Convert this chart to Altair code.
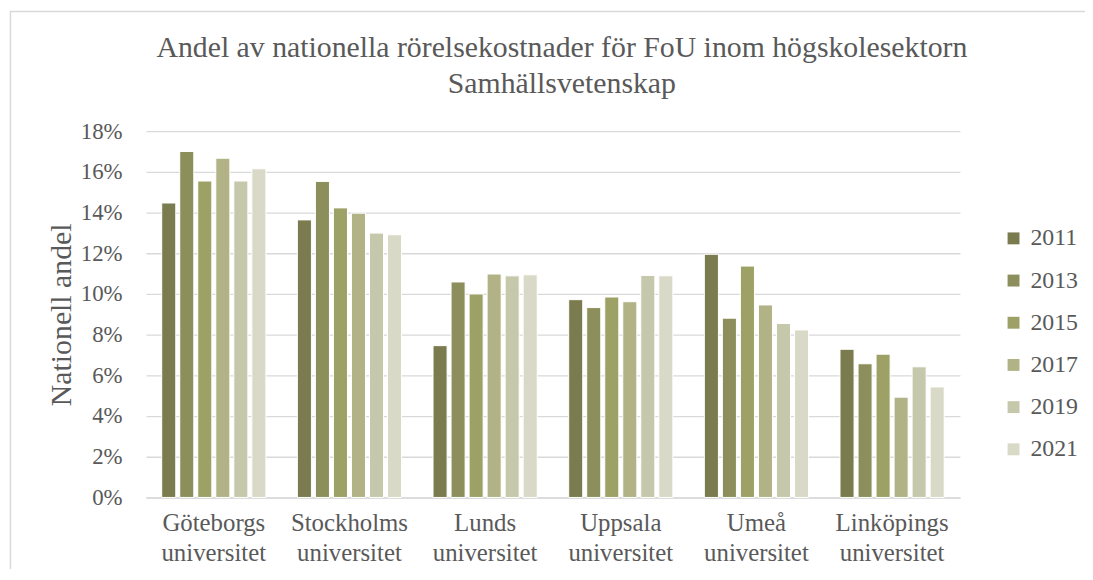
import altair as alt
import pandas as pd

universities = ["Göteborgs universitet", "Stockholms universitet", "Lunds universitet",
                "Uppsala universitet", "Umeå universitet", "Linköpings universitet"]
years = ["2011", "2013", "2015", "2017", "2019", "2021"]
colors = ["#7a7b4e", "#8c8f5b", "#9ea166", "#b1b386", "#c6c8ab", "#d8d9c6"]

v2011 = [14.47, 13.64, 7.46, 9.72, 11.95, 7.28]
v2013 = [17.00, 15.53, 10.59, 9.33, 8.81, 6.57]
v2015 = [15.55, 14.23, 10.00, 9.85, 11.37, 7.04]
v2017 = [16.67, 13.97, 10.98, 9.62, 9.46, 4.93]
v2019 = [15.55, 12.99, 10.89, 10.91, 8.55, 6.42]
v2021 = [16.15, 12.91, 10.94, 10.89, 8.23, 5.43]

series = {"2011": v2011, "2013": v2013, "2015": v2015,
          "2017": v2017, "2019": v2019, "2021": v2021}

rows = []
for y in years:
    for u, v in zip(universities, series[y]):
        rows.append({"Universitet": u, "År": y, "Andel": v / 100.0})
df = pd.DataFrame(rows)

FONT = "Liberation Serif"
TXT = "#595959"
GRID = "#d9d9d9"

bars = alt.Chart(df).mark_bar(stroke="white", strokeWidth=1).encode(
    x=alt.X("Universitet:N", sort=universities,
            scale=alt.Scale(paddingInner=0.232, paddingOuter=0.116),
            axis=alt.Axis(title=None, labelAngle=0, labelExpr="split(datum.label, ' ')",
                          labelFontSize=25, labelFont=FONT, labelColor=TXT,
                          labelLineHeight=31, labelPadding=13, ticks=False,
                          domainColor=GRID, domainWidth=1.5, grid=False)),
    xOffset=alt.XOffset("År:N", sort=years,
                        scale=alt.Scale(paddingInner=0.22, paddingOuter=0)),
    y=alt.Y("Andel:Q", scale=alt.Scale(domain=[0, 0.18]),
            axis=alt.Axis(title="Nationell andel", format=".0%",
                          values=[i / 100 for i in range(0, 19, 2)],
                          labelFontSize=23, labelFont=FONT, labelColor=TXT,
                          labelPadding=24, ticks=False, domain=False,
                          gridColor=GRID, gridWidth=1.3,
                          titleFont=FONT, titleFontSize=30, titleColor=TXT,
                          titleFontWeight="normal", titlePadding=4)),
    color=alt.Color("År:N", sort=years,
                    scale=alt.Scale(domain=years, range=colors),
                    legend=alt.Legend(title=None, orient="none", legendX=862, legendY=96,
                                      symbolType="square", symbolSize=144,
                                      symbolStrokeWidth=0, labelFontSize=24,
                                      labelFont=FONT, labelColor=TXT, rowPadding=18.5,
                                      labelOffset=5, padding=0)),
)

frame = alt.Chart(alt.Data(values=[{}])).mark_rect(
    fill=None, stroke=GRID, strokeWidth=1.5
).encode(
    x=alt.value(-136.5), x2=alt.value(1000), y=alt.value(-120.5), y2=alt.value(600)
)

chart = alt.layer(frame, bars).properties(
    width=820, height=369,
    title=alt.TitleParams(
        text=["Andel av nationella rörelsekostnader för FoU inom högskolesektorn",
              "Samhällsvetenskap"],
        font=FONT, fontSize=30, fontWeight="normal", color=TXT,
        lineHeight=36, anchor="middle", dx=9, offset=-89),
    autosize=alt.AutoSizeParams(type="none"),
    padding={"left": 139, "top": 122, "right": 126, "bottom": 70},
).configure_view(stroke=None)

chart.save("out.html", embed_options={"renderer": "svg", "actions": False})
